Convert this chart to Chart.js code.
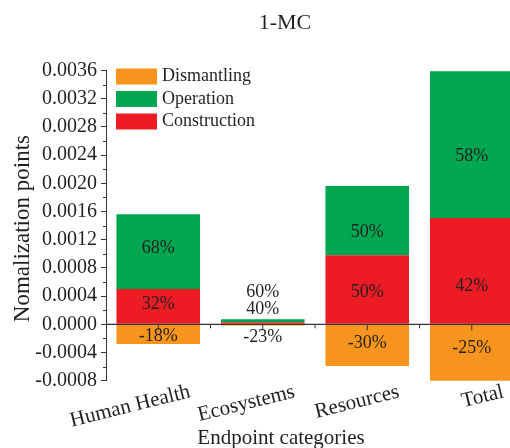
<!DOCTYPE html>
<html>
<head>
<meta charset="utf-8">
<script src="https://cdn.jsdelivr.net/npm/chart.js@4/dist/chart.umd.min.js"></script>
<style>
  html, body { margin: 0; padding: 0; background: #fff; overflow: hidden; }
  #wrap { width: 526px; height: 448px; }
</style>
</head>
<body>
<div id="wrap"><canvas id="c" width="526" height="448"></canvas></div>
<script>
// Endpoint categories and the normalization points of each life-cycle stage
const categories = ['Human Health', 'Ecosystems', 'Resources', 'Total'];
const construction = [0.00050, 0.000028, 0.00098, 0.001508];
const operation = [0.00106, 0.000042, 0.00098, 0.002082];
const dismantling = [-0.00028, -0.000016, -0.00059, -0.000886];

// Share labels printed on the segments
const constructionPct = ['32%', '40%', '50%', '42%'];
const operationPct = ['68%', '60%', '50%', '58%'];
const dismantlingPct = ['-18%', '-23%', '-30%', '-25%'];

// Value axis range and step
const yMin = -0.0008;
const yMax = 0.0036;
const yStep = 0.0004;

const chartTitle = '1-MC';
const xTitle = 'Endpoint categories';
const yTitle = 'Nomalization points';

const COLORS = { construction: '#ED1C24', operation: '#00A650', dismantling: '#F7941D' };
const INK = '#231F20';
const SERIF = '"Liberation Serif", "DejaVu Serif", serif';

// vertical nudges (px) for segment labels: [construction, operation, dismantling]
const LABEL_NUDGE = [
  [-2, -3, 2],
  [-14, -29, 12],
  [3, 12, -2],
  [15, 12, -4]
];

const decor = {
  id: 'decor',
  afterDatasetsDraw(chart) {
    const { ctx, chartArea: a, scales: { x, y } } = chart;
    const y0 = y.getPixelForValue(0);
    ctx.save();
    ctx.strokeStyle = '#333';
    ctx.lineWidth = 1.2;
    // zero line
    ctx.beginPath();
    ctx.moveTo(a.left, y0);
    ctx.lineTo(a.right + 4, y0);
    ctx.stroke();
    // category ticks on the zero line
    ctx.lineWidth = 1;
    ctx.beginPath();
    categories.forEach((c, i) => {
      const px = x.getPixelForValue(i);
      ctx.moveTo(px, y0); ctx.lineTo(px, y0 + 6);
      const half = px + (x.getPixelForValue(1) - x.getPixelForValue(0)) / 2;
      ctx.moveTo(half, y0); ctx.lineTo(half, y0 + 4);
    });
    ctx.stroke();
    // minor ticks on the value axis
    ctx.beginPath();
    for (let v = yMin + yStep / 2; v < yMax; v += yStep) {
      const py = Math.round(y.getPixelForValue(v)) + 0.5;
      ctx.moveTo(a.left, py); ctx.lineTo(a.left - 3, py);
    }
    ctx.stroke();

    // segment labels
    ctx.fillStyle = INK;
    ctx.font = '18px ' + SERIF;
    ctx.textAlign = 'center';
    ctx.textBaseline = 'middle';
    const sets = [constructionPct, operationPct, dismantlingPct];
    chart.data.datasets.forEach((ds, di) => {
      const meta = chart.getDatasetMeta(di);
      meta.data.forEach((el, i) => {
        const top = Math.min(Math.max(el.y, a.top), a.bottom);
        const base = Math.min(Math.max(el.base, a.top), a.bottom);
        const cy = (top + base) / 2 + LABEL_NUDGE[i][di];
        ctx.fillText(sets[di][i], el.x, cy);
      });
    });
    ctx.restore();
  },
  afterDraw(chart) {
    const { ctx, chartArea: a, scales: { x } } = chart;
    ctx.save();
    ctx.fillStyle = INK;
    // title
    ctx.font = '22px ' + SERIF;
    ctx.textAlign = 'center';
    ctx.textBaseline = 'alphabetic';
    ctx.fillText(chartTitle, 285, 29);
    // category labels, tilted
    ctx.font = '21px ' + SERIF;
    ctx.textAlign = 'right';
    categories.forEach((c, i) => {
      const px = x.getPixelForValue(i) + 33;
      ctx.save();
      ctx.translate(px, 397);
      ctx.rotate(-14 * Math.PI / 180);
      ctx.fillText(c, 0, 0);
      ctx.restore();
    });
    // axis titles
    ctx.textAlign = 'center';
    ctx.font = '21px ' + SERIF;
    ctx.fillText(xTitle, 281, 444);
    ctx.save();
    ctx.translate(29, (a.top + a.bottom) / 2 + 3);
    ctx.rotate(-Math.PI / 2);
    ctx.font = '23px ' + SERIF;
    ctx.fillText(yTitle, 0, 0);
    ctx.restore();
    // legend
    const items = [
      ['Dismantling', COLORS.dismantling],
      ['Operation', COLORS.operation],
      ['Construction', COLORS.construction]
    ];
    ctx.font = '18px ' + SERIF;
    ctx.textAlign = 'left';
    ctx.textBaseline = 'middle';
    items.forEach(([label, col], k) => {
      const by = 68.5 + k * 22.5;
      ctx.fillStyle = col;
      ctx.fillRect(116, by, 41, 16);
      ctx.fillStyle = INK;
      ctx.fillText(label, 162, by + 8);
    });
    ctx.restore();
  }
};

new Chart(document.getElementById('c'), {
  type: 'bar',
  data: {
    labels: categories,
    datasets: [
      { label: 'Construction', data: construction, backgroundColor: COLORS.construction, stack: 's' },
      { label: 'Operation', data: operation, backgroundColor: COLORS.operation, stack: 's' },
      { label: 'Dismantling', data: dismantling, backgroundColor: COLORS.dismantling, stack: 's' }
    ]
  },
  options: {
    responsive: false,
    animation: false,
    layout: { padding: { top: 70.5, right: 2, left: 0, bottom: 0 } },
    datasets: { bar: { barPercentage: 0.8, categoryPercentage: 1.0, borderWidth: 0 } },
    plugins: { legend: { display: false }, title: { display: false }, tooltip: { enabled: false } },
    scales: {
      x: {
        stacked: true,
        grid: { display: false },
        border: { display: false },
        ticks: { display: false },
        afterFit(s) { s.height = 448 - 380.7; }
      },
      y: {
        stacked: true,
        min: yMin,
        max: yMax,
        grid: { display: true, drawOnChartArea: false, drawTicks: true, tickLength: 5, tickColor: '#333', tickWidth: 1 },
        border: { display: true, color: '#333', width: 1 },
        ticks: {
          stepSize: yStep,
          padding: 4,
          color: INK,
          font: { family: SERIF, size: 20 },
          callback: v => (Math.abs(v) < 1e-12 ? 0 : v).toFixed(4)
        },
        afterFit(s) { s.width = 106; }
      }
    }
  },
  plugins: [decor]
});
</script>
</body>
</html>
